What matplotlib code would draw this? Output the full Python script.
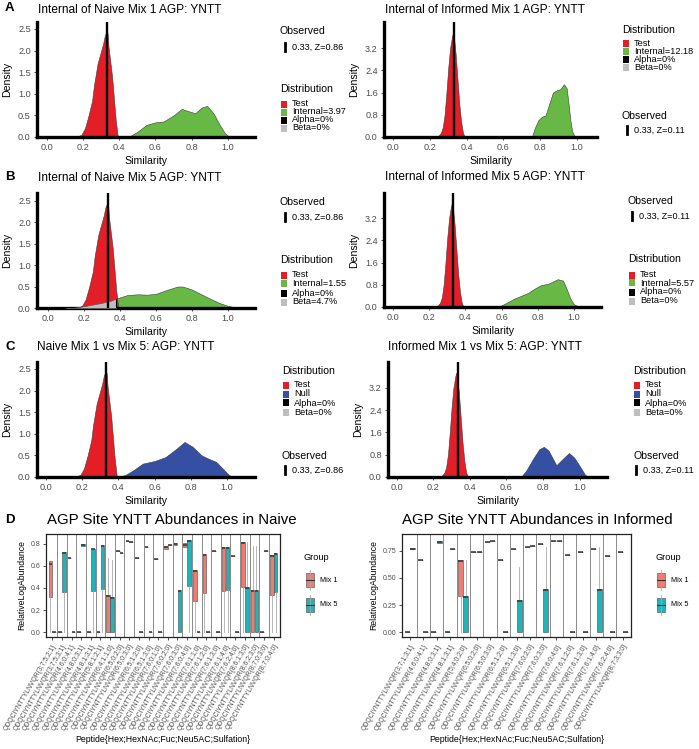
import matplotlib
matplotlib.use('Agg')
import matplotlib.pyplot as plt
from matplotlib.patches import Rectangle
from matplotlib.lines import Line2D
import numpy as np

plt.rcParams['font.family'] = ['Liberation Sans', 'DejaVu Sans']

# ---------------- data: density curves (x, density) ----------------
test_naive_x = [0.16, 0.19, 0.21, 0.23, 0.25, 0.26, 0.27, 0.28, 0.29, 0.30, 0.31, 0.32, 0.33, 0.335, 0.34, 0.35, 0.36, 0.37, 0.38, 0.39, 0.395]
test_naive_y = [0.0, 0.05, 0.2, 0.5, 0.85, 1.2, 1.45, 1.7, 1.85, 2.0, 2.15, 2.35, 2.45, 2.4, 2.1, 1.75, 1.4, 0.9, 0.4, 0.05, 0.0]

test_inf_x = [0.24, 0.26, 0.27, 0.28, 0.29, 0.30, 0.31, 0.32, 0.325, 0.33, 0.34, 0.35, 0.36, 0.37, 0.38, 0.39]
test_inf_y = [0.0, 0.15, 0.35, 0.8, 1.6, 2.5, 3.2, 3.6, 3.73, 3.65, 3.0, 2.1, 1.2, 0.55, 0.15, 0.0]

int_naive1_x = [0.45, 0.50, 0.55, 0.60, 0.645, 0.70, 0.745, 0.78, 0.82, 0.855, 0.885, 0.92, 0.955, 0.985, 1.01]
int_naive1_y = [0.0, 0.12, 0.28, 0.34, 0.36, 0.5, 0.65, 0.6, 0.55, 0.68, 0.72, 0.55, 0.28, 0.08, 0.0]

int_inf1_x = [0.755, 0.77, 0.79, 0.81, 0.83, 0.85, 0.87, 0.89, 0.91, 0.93, 0.945, 0.955, 0.965, 0.975, 0.99]
int_inf1_y = [0.0, 0.3, 0.6, 0.73, 0.78, 1.2, 1.6, 1.68, 1.72, 1.9, 1.75, 1.2, 0.6, 0.2, 0.0]

int_naive5_x = [0.10, 0.15, 0.20, 0.25, 0.30, 0.35, 0.38, 0.44, 0.50, 0.55, 0.60, 0.66, 0.72, 0.75, 0.80, 0.88, 0.95, 1.00, 1.06]
int_naive5_y = [0.0, 0.01, 0.04, 0.08, 0.12, 0.17, 0.22, 0.30, 0.32, 0.31, 0.33, 0.42, 0.50, 0.50, 0.43, 0.26, 0.12, 0.05, 0.0]

int_inf5_x = [0.57, 0.60, 0.64, 0.67, 0.70, 0.745, 0.78, 0.82, 0.855, 0.88, 0.91, 0.94, 0.96, 0.98, 1.00, 1.03]
int_inf5_y = [0.0, 0.06, 0.19, 0.30, 0.38, 0.50, 0.65, 0.79, 0.83, 0.90, 1.00, 0.95, 0.65, 0.31, 0.10, 0.0]

null_naive_x = [0.40, 0.44, 0.48, 0.535, 0.60, 0.66, 0.72, 0.765, 0.81, 0.86, 0.90, 0.94, 0.98, 1.01, 1.03]
null_naive_y = [0.0, 0.05, 0.15, 0.31, 0.37, 0.46, 0.65, 0.81, 0.70, 0.50, 0.42, 0.35, 0.18, 0.05, 0.0]

null_inf_x = [0.68, 0.71, 0.746, 0.78, 0.805, 0.83, 0.873, 0.90, 0.942, 0.97, 1.00, 1.03, 1.05]
null_inf_y = [0.0, 0.25, 0.66, 1.0, 1.08, 0.95, 0.42, 0.60, 0.86, 0.70, 0.40, 0.08, 0.0]

observed = 0.333
beta_cut = 0.38
obs_naive_text = "0.33, Z=0.86"
obs_inf_text = "0.33, Z=0.11"

# ---------------- data: box plots (q1, med, q3, whislo, whishi) ----------------
naive_labels = ["3;7;5;2;1", "3;7;5;3;1", "4;6;0;4;1", "4;8;0;3;1", "4;8;1;3;1", "5;8;1;2;1",
                "6;4;1;1;0", "6;5;0;2;0", "6;5;0;3;0", "6;5;1;2;0", "6;5;1;3;0", "7;6;0;1;0",
                "7;6;0;2;0", "7;6;0;3;0", "7;6;0;4;0", "7;6;1;1;0", "7;6;1;2;0", "7;6;1;3;0",
                "7;6;1;4;0", "7;6;2;4;0", "8;6;1;3;0", "8;6;2;3;0", "8;7;0;3;0", "8;7;0;4;0"]
naive_mix1 = [(0.32, 0.62, 0.645, 0.0, 0.645), (0, 0, 0, 0, 0), (0.67, 0.67, 0.67, 0.67, 0.67),
              (0, 0, 0, 0, 0), (0, 0, 0, 0, 0), (0, 0, 0, 0, 0),
              (0.0, 0.33, 0.335, 0.0, 0.67), (0.74, 0.74, 0.74, 0.74, 0.74), (0.83, 0.83, 0.83, 0.83, 0.83),
              (0.67, 0.67, 0.67, 0.67, 0.67), (0.77, 0.77, 0.77, 0.77, 0.77), (0.66, 0.66, 0.66, 0.66, 0.66),
              (0.75, 0.77, 0.78, 0.75, 0.78), (0.79, 0.80, 0.81, 0.79, 0.81), (0.77, 0.79, 0.81, 0.77, 0.81),
              (0.28, 0.55, 0.56, 0.0, 0.56), (0.35, 0.70, 0.71, 0.0, 0.71), (0.74, 0.74, 0.74, 0.74, 0.74),
              (0.37, 0.76, 0.77, 0.0, 0.77), (0.69, 0.69, 0.69, 0.69, 0.69), (0.41, 0.81, 0.82, 0.0, 0.82),
              (0.0, 0.37, 0.38, 0.0, 0.78), (0, 0, 0, 0, 0), (0.34, 0.69, 0.70, 0.0, 0.70)]
naive_mix5 = [(0, 0, 0, 0, 0), (0.36, 0.72, 0.73, 0.0, 0.73), (0, 0, 0, 0, 0),
              (0.785, 0.79, 0.795, 0.785, 0.795), (0.375, 0.75, 0.755, 0.0, 0.755), (0.39, 0.78, 0.79, 0.0, 0.79),
              (0.0, 0.31, 0.32, 0.0, 0.65), (0.72, 0.72, 0.72, 0.72, 0.72), (0.82, 0.82, 0.82, 0.82, 0.82),
              (0, 0, 0, 0, 0), (0, 0, 0, 0, 0), (0, 0, 0, 0, 0),
              (0.79, 0.79, 0.79, 0.79, 0.79), (0.0, 0.37, 0.38, 0.0, 0.38), (0.42, 0.83, 0.84, 0.0, 0.84),
              (0, 0, 0, 0, 0), (0, 0, 0, 0, 0), (0, 0, 0, 0, 0),
              (0.38, 0.76, 0.77, 0.0, 0.77), (0, 0, 0, 0, 0), (0.0, 0.40, 0.41, 0.0, 0.82),
              (0.0, 0.37, 0.38, 0.0, 0.78), (0.74, 0.74, 0.74, 0.74, 0.74), (0.36, 0.71, 0.72, 0.0, 0.72)]

inf_labels = ["3;7;1;3;1", "4;6;0;4;1", "4;8;0;3;1", "4;8;1;3;1", "5;4;0;2;0", "6;5;0;2;0",
              "6;5;0;3;0", "6;5;1;2;0", "6;5;1;3;0", "7;6;0;2;0", "7;6;0;3;0", "7;6;0;4;0",
              "7;6;1;2;0", "7;6;1;3;0", "7;6;1;4;0", "7;6;2;4;0", "8;7;3;3;0"]
inf_mix1 = [(0, 0, 0, 0, 0), (0.67, 0.67, 0.67, 0.67, 0.67), (0, 0, 0, 0, 0), (0, 0, 0, 0, 0),
            (0.33, 0.66, 0.67, 0.0, 0.67), (0.74, 0.74, 0.74, 0.74, 0.74), (0.83, 0.83, 0.83, 0.83, 0.83),
            (0.67, 0.67, 0.67, 0.67, 0.67), (0.765, 0.765, 0.765, 0.765, 0.765), (0.79, 0.79, 0.79, 0.79, 0.79),
            (0.81, 0.81, 0.81, 0.81, 0.81), (0.84, 0.84, 0.84, 0.84, 0.84), (0.71, 0.71, 0.71, 0.71, 0.71),
            (0.74, 0.74, 0.74, 0.74, 0.74), (0.77, 0.77, 0.77, 0.77, 0.77), (0.70, 0.70, 0.70, 0.70, 0.70),
            (0.74, 0.74, 0.74, 0.74, 0.74)]
inf_mix5 = [(0.765, 0.77, 0.78, 0.765, 0.78), (0, 0, 0, 0, 0), (0.82, 0.83, 0.84, 0.82, 0.84),
            (0.77, 0.77, 0.77, 0.77, 0.77), (0.0, 0.32, 0.33, 0.0, 0.67), (0.74, 0.74, 0.74, 0.74, 0.74),
            (0.84, 0.84, 0.84, 0.84, 0.84), (0, 0, 0, 0, 0), (0.0, 0.29, 0.30, 0.0, 0.605),
            (0.80, 0.80, 0.80, 0.80, 0.80), (0.0, 0.39, 0.40, 0.0, 0.79), (0.845, 0.845, 0.845, 0.845, 0.845),
            (0, 0, 0, 0, 0), (0, 0, 0, 0, 0), (0.0, 0.39, 0.40, 0.0, 0.79), (0, 0, 0, 0, 0), (0, 0, 0, 0, 0)]

peptide = "QDQCIYNTTYLNVQR"

# ---------------- styling ----------------
RED = '#E41E26'
GREEN = '#67B845'
BLUE = '#3550A2'
GREY = '#BEBEBE'
MIX1 = '#F07B70'
MIX5 = '#1FB5B8'
TXT = '#4D4D4D'

W, H = 699, 749
fig = plt.figure(figsize=(W / 100, H / 100), dpi=100)


def rect(x0, y0, x1, y1):
    return [x0 / W, 1 - y1 / H, (x1 - x0) / W, (y1 - y0) / H]


def fx(x):
    return x / W


def fy(y):
    return 1 - y / H


def dens_panel(box, xlim, ymax, yticks, title, tpos, layers, beta=None):
    ax = fig.add_axes(rect(*box))
    for x, y, c in layers:
        ax.fill_between(x, y, 0, facecolor=c, edgecolor='#3a3a3a', linewidth=0.4, zorder=2)
    if beta is not None:
        bx, by = np.array(beta[0]), np.array(beta[1])
        m = bx <= beta_cut
        ax.fill_between(bx[m], by[m], 0, facecolor=GREY, edgecolor='#555555', linewidth=0.4, zorder=3)
        ax.plot([beta_cut, beta_cut], [0, by[m][-1]], color='black', lw=0.8, zorder=3)
    ax.axvline(observed, color='black', lw=1.7, zorder=5)
    ax.set_xlim(*xlim)
    ax.set_ylim(0, ymax)
    xt = [0.0, 0.2, 0.4, 0.6, 0.8, 1.0]
    ax.set_xticks(xt)
    ax.set_xticklabels(['%.1f' % v for v in xt])
    ax.set_yticks(yticks)
    ax.set_yticklabels(['%.1f' % v for v in yticks])
    for s in ['top', 'right']:
        ax.spines[s].set_visible(False)
    for s in ['left', 'bottom']:
        ax.spines[s].set_linewidth(2.4)
    ax.tick_params(labelsize=6.6, labelcolor=TXT, color='#333333', length=2.5, width=0.6, pad=2)
    ax.set_xlabel('Similarity', fontsize=7.6, labelpad=3)
    ax.set_ylabel('Density', fontsize=7.6, labelpad=4)
    fig.text(fx(tpos[0]), fy(tpos[1]), title, fontsize=8.6, ha='left', va='center')
    return ax


def leg_title(x, y, s):
    fig.text(fx(x), fy(y), s, fontsize=7.6, ha='left', va='center')


def leg_item(x, y, color, s):
    fig.add_artist(Rectangle((fx(x), fy(y + 3.5)), 6 / W, 7 / H, transform=fig.transFigure,
                             facecolor=color, edgecolor='none'))
    fig.text(fx(x + 11), fy(y), s, fontsize=6.6, ha='left', va='center')


def obs_item(x, y, s):
    fig.add_artist(Line2D([fx(x + 3), fx(x + 3)], [fy(y - 4), fy(y + 4)], transform=fig.transFigure,
                          color='black', lw=2.0))
    fig.text(fx(x + 10), fy(y), s, fontsize=6.6, ha='left', va='center')


def dist_legend(x, ytitle, ys, second, beta_txt):
    leg_title(x, ytitle, 'Distribution')
    items = [(RED, 'Test'), second, ('black', 'Alpha=0%'), (GREY, beta_txt)]
    for yy, (c, s) in zip(ys, items):
        leg_item(x + 1, yy, c, s)


yt_l = [0.0, 0.5, 1.0, 1.5, 2.0, 2.5]
yt_r = [0.0, 0.8, 1.6, 2.4, 3.2]

# Panel A
dens_panel((37, 22, 255, 137), (-0.055, 1.15), 2.66, yt_l, 'Internal of Naive Mix 1 AGP: YNTT', (38, 10),
           [(test_naive_x, test_naive_y, RED), (int_naive1_x, int_naive1_y, GREEN)])
leg_title(280, 31, 'Observed'); obs_item(282, 47, obs_naive_text)
dist_legend(280, 89, [104, 112, 120, 128], (GREEN, 'Internal=3.97'), 'Beta=0%')

dens_panel((384, 22, 597, 137), (-0.05, 1.11), 4.14, yt_r, 'Internal of Informed Mix 1 AGP: YNTT', (385, 10),
           [(test_inf_x, test_inf_y, RED), (int_inf1_x, int_inf1_y, GREEN)])
dist_legend(622, 30, [43, 51, 59, 67], (GREEN, 'Internal=12.18'), 'Beta=0%')
leg_title(622, 116, 'Observed'); obs_item(624, 130, obs_inf_text)

# Panel B
dens_panel((37, 193, 255, 308), (-0.06, 1.15), 2.68, yt_l, 'Internal of Naive Mix 5 AGP: YNTT', (38, 178),
           [(int_naive5_x, int_naive5_y, GREEN), (test_naive_x, test_naive_y, RED)],
           beta=(int_naive5_x, int_naive5_y))
leg_title(280, 202, 'Observed'); obs_item(282, 217, obs_naive_text)
dist_legend(280, 260, [275, 284, 293, 302], (GREEN, 'Internal=1.55'), 'Beta=4.7%')

dens_panel((384, 193, 601, 307), (-0.05, 1.15), 4.1, yt_r, 'Internal of Informed Mix 5 AGP: YNTT', (385, 177),
           [(test_inf_x, test_inf_y, RED), (int_inf5_x, int_inf5_y, GREEN)])
leg_title(628, 201, 'Observed'); obs_item(629, 216, obs_inf_text)
dist_legend(628, 259, [275, 283, 292, 301], (GREEN, 'Internal=5.57'), 'Beta=0%')

# Panel C
dens_panel((37, 362, 255, 477), (-0.05, 1.155), 2.66, yt_l, 'Naive Mix 1 vs Mix 5: AGP: YNTT', (37, 347),
           [(test_naive_x, test_naive_y, RED), (null_naive_x, null_naive_y, BLUE)])
dist_legend(282, 371, [385, 394, 403, 412], (BLUE, 'Null'), 'Beta=0%')
leg_title(282, 456, 'Observed'); obs_item(282, 470, obs_naive_text)

dens_panel((388, 362, 607, 477), (-0.048, 1.15), 4.12, yt_r, 'Informed Mix 1 vs Mix 5: AGP: YNTT', (388, 347),
           [(test_inf_x, test_inf_y, RED), (null_inf_x, null_inf_y, BLUE)])
dist_legend(633, 371, [385, 394, 403, 412], (BLUE, 'Null'), 'Beta=0%')
leg_title(633, 456, 'Observed'); obs_item(633, 470, obs_inf_text)


# Panel D
def box_panel(box, labels, g1, g2, xlim, ylim, yticks, ylabels, title, tpos, legx):
    ax = fig.add_axes(rect(*box))
    n = len(labels)
    pos = np.arange(1, n + 1)
    for i in range(1, n):
        ax.axvline(i + 0.5, color='#8A8A8A', lw=0.7, zorder=1)
    for stats_list, off, col in [(g1, -0.2, MIX1), (g2, 0.2, MIX5)]:
        stats = [dict(q1=s[0], med=s[1], q3=s[2], whislo=s[3], whishi=s[4]) for s in stats_list]
        ax.bxp(stats, positions=pos + off, widths=0.38, patch_artist=True, showfliers=False,
               showcaps=False,
               boxprops=dict(facecolor=col, edgecolor='#4a4a4a', linewidth=0.4),
               medianprops=dict(color='#333333', linewidth=1.1),
               whiskerprops=dict(color='#AAAAAA', linewidth=0.6), manage_ticks=False)
    ax.set_xlim(*xlim)
    ax.set_ylim(*ylim)
    ax.set_xticks(pos)
    ax.set_xticklabels([peptide + '{' + l + '}' for l in labels], rotation=60, ha='right',
                       va='top', rotation_mode='anchor', fontsize=4.9, color=TXT)
    ax.set_yticks(yticks)
    ax.set_yticklabels(ylabels, fontsize=5, color=TXT)
    for s in ax.spines.values():
        s.set_linewidth(0.9)
        s.set_color('#222222')
    ax.tick_params(axis='both', length=2.5, width=0.6, color='#333333', pad=1.5)
    ax.set_ylabel('RelativeLogAbundance', fontsize=6.2, labelpad=3)
    cx = (box[0] + box[2]) / 2
    fig.text(fx(cx), fy(740), 'Peptide{Hex;HexNAc;Fuc;Neu5AC;Sulfation}', fontsize=6.3,
             ha='center', va='center')
    fig.text(fx(tpos[0]), fy(tpos[1]), title, fontsize=10.8, ha='left', va='center')
    # legend
    fig.text(fx(legx), fy(558), 'Group', fontsize=6.6, ha='left', va='center')
    for yy, col, s in [(580, MIX1, 'Mix 1'), (605, MIX5, 'Mix 5')]:
        fig.add_artist(Line2D([fx(legx + 6)] * 2, [fy(yy - 10), fy(yy + 10)], transform=fig.transFigure,
                              color='#AAAAAA', lw=0.6))
        fig.add_artist(Rectangle((fx(legx + 2), fy(yy + 7)), 8 / W, 14 / H, transform=fig.transFigure,
                                 facecolor=col, edgecolor='#4a4a4a', linewidth=0.4))
        fig.add_artist(Line2D([fx(legx + 2), fx(legx + 10)], [fy(yy)] * 2, transform=fig.transFigure,
                              color='#333333', lw=0.8))
        fig.text(fx(legx + 16), fy(yy), s, fontsize=5.2, ha='left', va='center')
    return ax


box_panel((46, 534, 280, 637), naive_labels, naive_mix1, naive_mix5, (0.35, 24.65), (-0.045, 0.89),
          [0.0, 0.2, 0.4, 0.6, 0.8], ['0.0', '0.2', '0.4', '0.6', '0.8'],
          'AGP Site YNTT Abundances in Naive', (47, 520), 304)
box_panel((402, 534, 631, 637), inf_labels, inf_mix1, inf_mix5, (0.4, 17.6), (-0.046, 0.907),
          [0.0, 0.25, 0.5, 0.75], ['0.00', '0.25', '0.50', '0.75'],
          'AGP Site YNTT Abundances in Informed', (402, 520), 655)

# panel letters
for s, (x, y) in zip('ABCD', [(5, 8), (5, 177), (5, 347), (5, 520)]):
    fig.text(fx(x), fy(y), s, fontsize=9.5, fontweight='bold', ha='left', va='center')

fig.savefig('out.png', dpi=100)
